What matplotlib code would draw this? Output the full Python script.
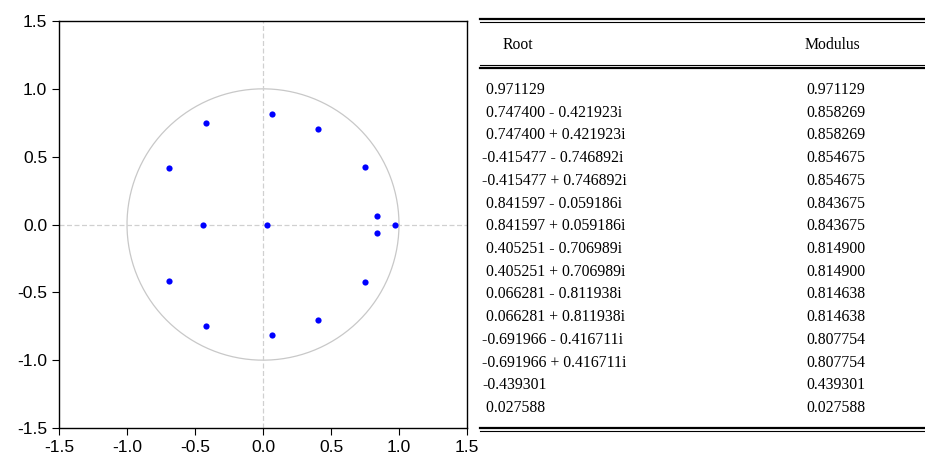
import numpy as np
import matplotlib
matplotlib.use("Agg")
import matplotlib.pyplot as plt

# AR roots (real part, imaginary part) and their modulus
root_re = [0.971129, 0.747400, 0.747400, -0.415477, -0.415477, 0.841597, 0.841597,
           0.405251, 0.405251, 0.066281, 0.066281, -0.691966, -0.691966, -0.439301, 0.027588]
root_im = [0.0, -0.421923, 0.421923, -0.746892, 0.746892, -0.059186, 0.059186,
           -0.706989, 0.706989, -0.811938, 0.811938, -0.416711, 0.416711, 0.0, 0.0]
modulus = [0.971129, 0.858269, 0.858269, 0.854675, 0.854675, 0.843675, 0.843675,
           0.814900, 0.814900, 0.814638, 0.814638, 0.807754, 0.807754, 0.439301, 0.027588]
ticks = [-1.5, -1.0, -0.5, 0.0, 0.5, 1.0, 1.5]

W, H = 925, 462
fig = plt.figure(figsize=(W / 100, H / 100), dpi=100)

# unit circle plot
ax = fig.add_axes([59 / W, 1 - 428 / H, (467 - 59) / W, (428 - 21) / H])
t = np.linspace(0, 2 * np.pi, 400)
ax.plot(np.cos(t), np.sin(t), color="#c8c8c8", lw=0.9)
ax.axhline(0, color="#d0d0d0", lw=0.9, ls=(0, (4, 2)))
ax.axvline(0, color="#d0d0d0", lw=0.9, ls=(0, (4, 2)))
ax.scatter(root_re, root_im, s=20, color="#0000ff", marker="o", zorder=3, linewidths=0)
ax.set_xlim(-1.5, 1.5)
ax.set_ylim(-1.5, 1.5)
ax.set_xticks(ticks)
ax.set_yticks(ticks)
ax.set_xticklabels([f"{v:.1f}" for v in ticks])
ax.set_yticklabels([f"{v:.1f}" for v in ticks])
ax.tick_params(direction="out", length=5, labelsize=12.5, top=False, right=False)
for lab in ax.get_xticklabels() + ax.get_yticklabels():
    lab.set_family("Liberation Sans")
for sp in ax.spines.values():
    sp.set_linewidth(1.0)

# table drawn in pixel coordinates
tb = fig.add_axes([0, 0, 1, 1])
tb.set_xlim(0, W)
tb.set_ylim(H, 0)
tb.axis("off")
tb.patch.set_alpha(0)

x0, x1 = 480, 925
def double_line(y, thick_first=True):
    tb.plot([x0, x1], [y, y], color="black", lw=1.6 if thick_first else 0.8)
    tb.plot([x0, x1], [y + 3, y + 3], color="black", lw=0.8 if thick_first else 1.6)

double_line(18.5)
double_line(64.5, thick_first=False)
double_line(427.5)

font = dict(family="Liberation Serif", fontsize=11.3, va="center")
tb.text(503, 45, "Root", **font)
tb.text(805, 45, "Modulus", **font)

y = 90
step = (408 - 90) / (len(root_re) - 1)
for re, im, m in zip(root_re, root_im, modulus):
    s = f"{re:.6f}" if re < 0 else f" {re:.6f}"
    if im != 0:
        s += f" {'-' if im < 0 else '+'} {abs(im):.6f}i"
    tb.text(482, y, s, **font)
    tb.text(806, y, f"{m:.6f}", **font)
    y += step

fig.savefig("out.png", dpi=100)
